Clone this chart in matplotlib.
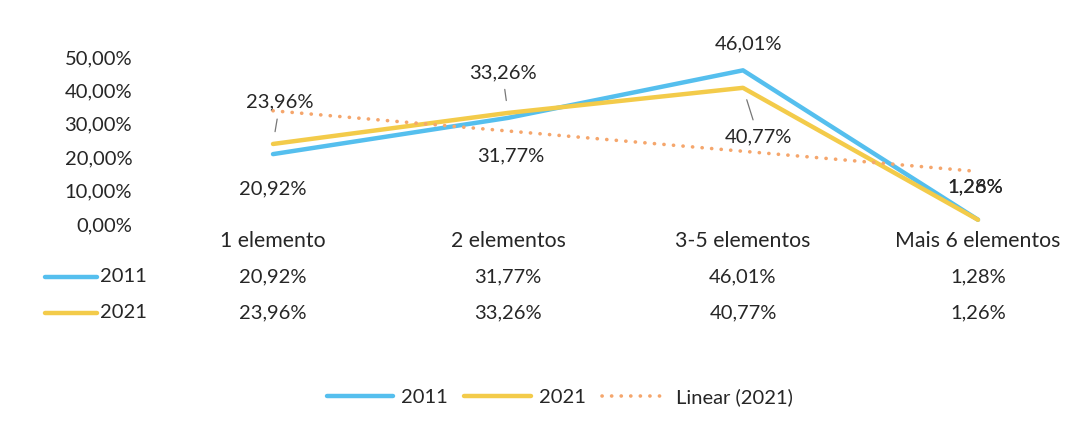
import numpy as np
import matplotlib
matplotlib.use('Agg')
from matplotlib import pyplot as plt
from matplotlib.transforms import blended_transform_factory

plt.rcParams['font.family'] = ['Lato', 'DejaVu Sans']

categories = ['1 elemento', '2 elementos', '3-5 elementos', 'Mais 6 elementos']
v2011 = [20.92, 31.77, 46.01, 1.28]
v2021 = [23.96, 33.26, 40.77, 1.26]
yticks = [0, 10, 20, 30, 40, 50]

blue = '#55BFEE'
yellow = '#F3CB4A'
orange = '#F5A66C'
txt = '#262626'
fs = 14.5     # numbers
fs_w = 15.3   # words

x = np.arange(1, len(categories) + 1)
v2011 = np.array(v2011)
v2021 = np.array(v2021)

# linear trend of 2021 (least squares, as excel does)
k, b = np.polyfit(x, v2021, 1)
trend = k * x + b

fig = plt.figure(figsize=(10.91, 4.38), dpi=100)
ax = fig.add_axes([160 / 1091, 1 - 224 / 438, 930 / 1091, 167 / 438])

l1, = ax.plot(x, v2011, color=blue, lw=3.2, solid_capstyle='round', label='2011', zorder=3)
l2, = ax.plot(x, v2021, color=yellow, lw=3.2, solid_capstyle='round', label='2021', zorder=4)
l3, = ax.plot(x, trend, color=orange, lw=2.6, ls=(0, (0.05, 2.6)), dash_capstyle='round',
              label='Linear (2021)', zorder=5)

ax.set_xlim(1 - 113 / 235, 4 + 112 / 235)
ax.set_ylim(0, 50)
ax.set_yticks(yticks)
ax.set_yticklabels([f'{t:.2f}%'.replace('.', ',') for t in yticks], fontsize=fs, color=txt)
ax.tick_params(axis='y', length=0, pad=20)
ax.set_xticks([])
for s in ax.spines.values():
    s.set_visible(False)


def fmt(v):
    return f'{v:.2f}%'.replace('.', ',')


# data labels (offsets in points), leader where excel drew one
lab2011 = [(0, -25), (2, -27), (4, 19), (-2, 24)]
lab2021 = [(5, 30), (-4, 29), (11, -35), (-2, 24)]
lead2021 = [True, True, True, False]
for i in range(len(x)):
    ax.annotate(fmt(v2011[i]), (x[i], v2011[i]), xytext=lab2011[i], textcoords='offset points',
                ha='center', va='center', fontsize=fs, color=txt, zorder=6, annotation_clip=False)
    ap = dict(arrowstyle='-', color='#777777', lw=0.9, shrinkA=4, shrinkB=9) if lead2021[i] else None
    ax.annotate(fmt(v2021[i]), (x[i], v2021[i]), xytext=lab2021[i], textcoords='offset points',
                ha='center', va='center', fontsize=fs, color=txt, zorder=6, annotation_clip=False,
                arrowprops=ap)

# data table under the chart
tr = blended_transform_factory(ax.transData, fig.transFigure)
rows_y = [1 - 241 / 438, 1 - 277 / 438, 1 - 313 / 438]
for i, c in enumerate(categories):
    ax.text(x[i], rows_y[0], c, transform=tr, ha='center', va='center', fontsize=fs_w, color=txt)
    ax.text(x[i], rows_y[1], fmt(v2011[i]), transform=tr, ha='center', va='center', fontsize=fs, color=txt)
    ax.text(x[i], rows_y[2], fmt(v2021[i]), transform=tr, ha='center', va='center', fontsize=fs, color=txt)

for yy, lbl, col in [(rows_y[1], '2011', blue), (rows_y[2], '2021', yellow)]:
    fig.add_artist(plt.Line2D([45 / 1091, 97 / 1091], [yy, yy], color=col, lw=3.2,
                              solid_capstyle='round', transform=fig.transFigure))
    fig.text(100 / 1091, yy, lbl, ha='left', va='center', fontsize=fs, color=txt)

fig.legend(handles=[l1, l2, l3], loc='center', bbox_to_anchor=(560 / 1091, 1 - 397 / 438),
           ncol=3, frameon=False, fontsize=fs, handlelength=3.3, handletextpad=0.4,
           columnspacing=0.8, labelcolor=txt)

fig.savefig('out.png', dpi=100, facecolor='white')
